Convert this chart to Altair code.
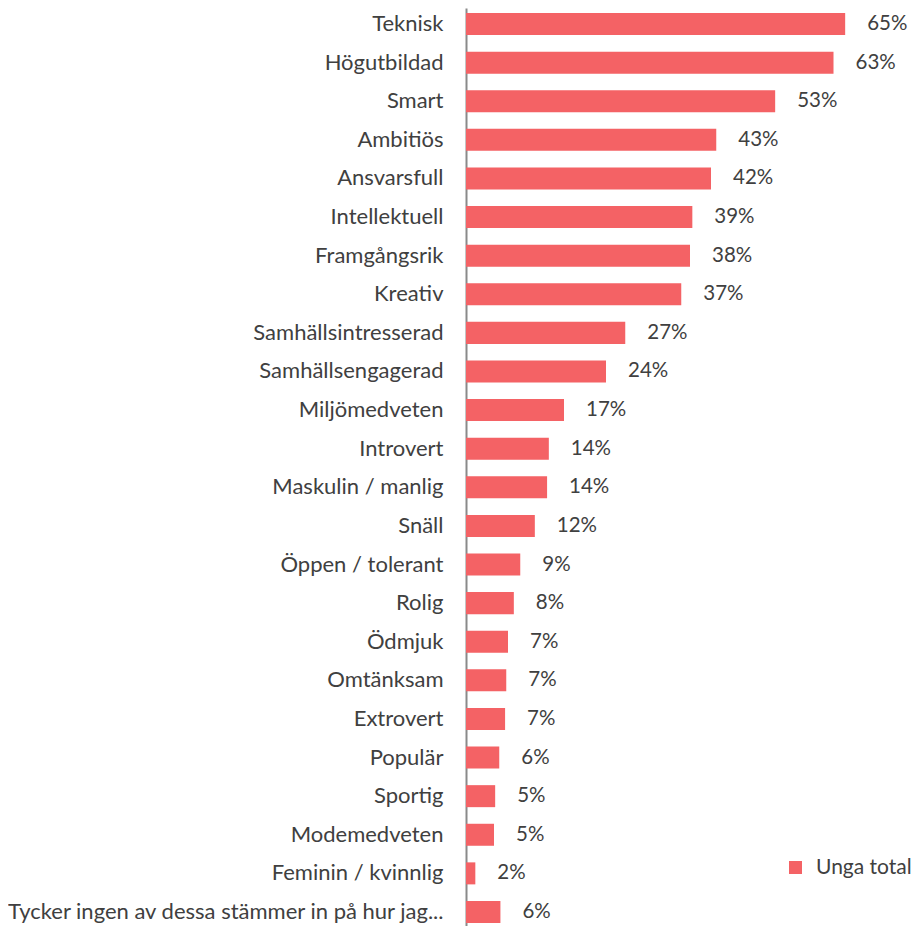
import altair as alt
import pandas as pd

categories = [
    "Teknisk", "Högutbildad", "Smart", "Ambitiös", "Ansvarsfull", "Intellektuell",
    "Framgångsrik", "Kreativ", "Samhällsintresserad", "Samhällsengagerad",
    "Miljömedveten", "Introvert", "Maskulin / manlig", "Snäll", "Öppen / tolerant",
    "Rolig", "Ödmjuk", "Omtänksam", "Extrovert", "Populär", "Sportig",
    "Modemedveten", "Feminin / kvinnlig", "Tycker ingen av dessa stämmer in på hur jag...",
]
values = [
    65.0, 63.0, 53.0, 42.9, 42.0, 38.8, 38.4, 36.9, 27.3, 24.0,
    16.8, 14.2, 13.9, 11.8, 9.3, 8.2, 7.2, 6.9, 6.7, 5.7,
    5.0, 4.8, 1.6, 5.9,
]
series_name = "Unga total"

df = pd.DataFrame({
    "kategori": categories,
    "andel": values,
    "serie": [series_name] * len(categories),
})

FONT = "Lato"
TXT = "#404040"
BAR = "#F46265"
W = 420
H = 920

y = alt.Y(
    "kategori:N", sort=categories,
    scale=alt.Scale(paddingInner=0.43, paddingOuter=0.13),
    axis=alt.Axis(title=None, ticks=False, domainColor="#8a8a8a", domainWidth=2,
                  labelFontSize=22, labelColor=TXT, labelFont=FONT,
                  labelPadding=23, labelLimit=600),
)
x = alt.X("andel:Q", scale=alt.Scale(domain=[0, 72], nice=False, zero=True), axis=None)

bars = alt.Chart(df).mark_bar().encode(
    x=x, y=y,
    color=alt.Color(
        "serie:N", scale=alt.Scale(range=[BAR]),
        legend=alt.Legend(title=None, orient="none", legendX=319, legendY=849,
                          symbolType="square", symbolSize=169, symbolStrokeWidth=0,
                          labelFontSize=21, labelFont=FONT, labelColor=TXT,
                          labelOffset=10, labelLimit=200, padding=0),
    ),
)

text = alt.Chart(df).transform_calculate(
    lbl="format(datum.andel, '.0f') + '%'"
).mark_text(align="left", baseline="middle", dx=22, fontSize=20.5, font=FONT, color=TXT).encode(
    x=x, y=y, text="lbl:N"
)

chart = (bars + text).properties(
    width=W, height=H,
    autosize=alt.AutoSizeParams(type="none"),
    padding={"left": 458, "top": 0, "right": 30, "bottom": 0},
).configure_view(stroke=None)

chart.save("out.html", embed_options={"renderer": "svg", "actions": False})
